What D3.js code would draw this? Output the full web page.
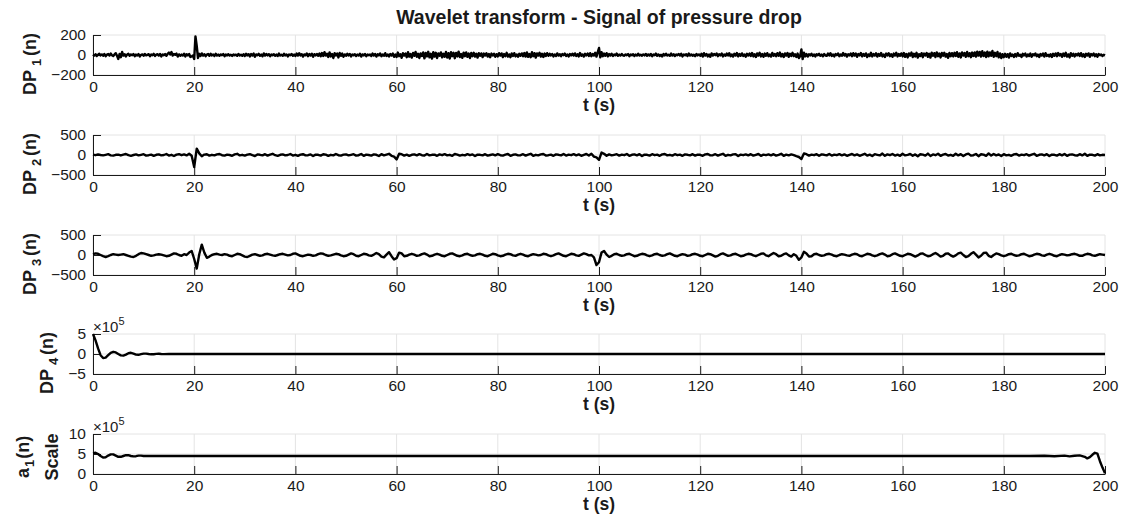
<!DOCTYPE html>
<html>
<head>
<meta charset="utf-8">
<script src="https://cdn.jsdelivr.net/npm/d3@7/dist/d3.min.js"></script>
<style>
  body { margin: 0; background: #fff; }
  svg { display: block; font-family: "Liberation Sans", Arial, Helvetica, sans-serif; }
</style>
</head>
<body>
<script>
// ---- data ----
let xTicks = [0, 20, 40, 60, 80, 100, 120, 140, 160, 180, 200];

// DP1, one sample every 0.25 s
let dp1 = [
  4,-6,8,-10,2,12,-4,6,-8,10,-12,3,9,-6,14,-2,-10,6,18,-8,
  -40,10,-22,30,-6,8,-14,4,12,-8,6,-2,10,-12,4,-6,9,-14,2,6,
  -8,10,-4,2,8,-12,6,-2,12,-10,4,8,-6,10,-14,6,-2,10,-8,12,
  24,6,30,-6,10,2,14,-16,6,-8,4,-6,12,-14,8,-4,10,-20,-14,-6,
  -40,185,90,-30,12,-10,16,-6,8,-12,4,10,-8,12,-4,6,-10,12,-6,4,
  -8,6,-2,10,-12,4,-4,8,-6,2,-10,6,-2,4,-8,10,-6,2,-8,8,
  -10,12,-4,8,-14,10,-6,14,-18,6,-2,12,-8,4,-12,16,-6,10,-4,8,
  -12,6,-2,8,-8,4,-10,14,-6,2,-8,12,-4,6,-14,6,-2,10,-8,4,
  -10,14,-6,18,-4,8,-16,6,-2,16,-12,10,-6,12,-18,8,-4,10,-8,14,
  -12,20,-10,28,-6,12,-20,26,-14,10,-30,18,-4,14,-24,20,-8,14,-18,6,
  -8,12,-4,10,-14,6,-2,8,-10,4,-6,12,-16,6,-4,10,-12,4,-2,6,
  -10,14,-6,10,-16,8,-4,16,-12,6,-8,18,-10,6,-14,10,-6,14,-18,4,
  -20,24,-12,8,-28,18,-6,14,-22,28,-16,10,-26,20,-8,30,-18,12,-30,16,
  -10,26,-34,20,-14,32,-24,12,-36,28,-16,22,-30,16,-8,26,-24,12,-18,30,
  -26,18,-36,28,-12,22,-32,20,-14,34,-20,10,-28,24,-12,26,-18,14,-30,20,
  -12,22,-16,12,-26,18,-8,16,-20,14,-6,18,-16,10,-22,14,-4,12,-18,8,
  -14,18,-6,16,-20,10,-12,22,-16,6,-22,16,-10,18,-14,6,-18,12,-8,16,
  -12,20,-16,26,-18,10,-22,28,-12,18,-26,16,-6,22,-16,12,-20,14,-10,18,
  -8,12,-4,10,-14,6,-10,16,-6,8,-12,10,-2,14,-10,6,-14,10,-4,12,
  -6,16,-10,8,-14,20,-8,6,-16,12,-4,14,-10,18,-12,10,-6,22,-16,30,
  70,-24,28,-12,14,-8,18,-14,10,-6,12,-10,6,-2,14,-8,4,-6,10,-4,
  -8,6,-2,10,-12,4,-2,8,-10,4,-6,12,-6,2,-8,6,-4,10,-8,6,
  -6,10,-12,4,-2,14,-8,6,-10,2,-14,10,-4,12,-6,2,-8,14,-6,8,
  -10,6,-2,10,-6,12,-14,4,-2,8,-10,14,-6,6,-8,2,-12,10,-4,6,
  -8,12,-16,18,-6,10,-14,4,-18,16,-6,10,-2,16,-12,8,-4,14,-14,6,
  -8,14,-4,18,-12,6,-16,12,-6,20,-14,10,-8,16,-10,6,-18,12,-6,14,
  -10,20,-14,8,-20,16,-6,22,-14,10,-18,14,-8,18,-12,6,-16,20,-8,10,
  -12,18,-8,24,-14,10,-20,16,-6,20,-18,12,-10,22,-12,8,-20,14,-30,-10,
  55,-40,24,-14,10,-16,8,-4,12,-10,6,-14,8,-2,12,-8,4,-12,10,-6,
  -8,14,-4,18,-10,6,-14,10,-2,16,-12,6,-8,20,-6,10,-16,8,-4,14,
  -12,18,-6,14,-18,10,-4,20,-14,10,-8,16,-20,6,-10,22,-14,10,-6,18,
  -16,10,-8,20,-14,6,-20,14,-4,18,-12,8,-18,14,-6,22,-14,10,-8,16,
  -14,20,-18,10,-24,16,-6,24,-20,12,-14,22,-26,8,-10,18,-22,14,-4,20,
  -18,12,-26,24,-8,18,-20,26,-12,14,-24,20,-8,22,-16,10,-28,20,-12,18,
  -14,22,-10,28,-18,16,-24,26,-6,20,-18,30,-12,18,-22,24,-10,26,-16,34,
  -6,30,-16,38,-10,24,-20,34,-14,26,-8,40,-18,22,-12,30,-24,16,-30,8,
  -22,12,-18,8,-26,16,-10,4,-20,10,-14,18,-8,2,-20,12,-4,14,-16,6,
  -10,14,-18,8,-2,16,-12,4,-20,10,-6,14,-16,18,-10,2,-14,8,-20,12,
  -8,16,-12,20,-4,10,-18,14,-10,22,-16,6,-24,18,-8,12,-14,10,-4,16,
  -10,18,-14,8,-20,12,-6,16,-18,10,-4,14,-12,8,-18,10,-2,6,-10,2,
  -4
];

// DP2, one sample every 0.5 s
let dp2 = [
  10,-5,15,0,-10,5,20,-8,-15,5,10,-12,8,25,-5,-20,0,15,-10,5,
  20,-15,-5,10,-20,5,15,-10,0,25,-15,5,-25,10,20,-5,15,-10,30,-20,
  -300,160,40,-30,10,20,-15,5,-10,15,25,-5,-15,10,0,-20,15,30,-10,5,
  -15,10,20,-5,-25,15,5,-10,20,-15,10,30,-5,-20,5,15,-10,0,25,-15,
  5,-20,10,20,-10,-5,15,-25,10,5,-15,20,10,-20,5,-10,25,-5,-15,10,
  15,-10,5,20,-15,-5,25,-20,10,0,-15,15,5,-25,20,-10,10,30,-20,-40,
  -110,30,20,-15,10,-20,5,15,-10,20,-5,-15,25,-10,5,10,-20,15,-5,20,
  -10,5,-20,25,10,-15,5,-10,20,-5,15,-25,10,5,-10,20,-15,0,15,-10,
  20,-5,-15,10,25,-20,5,15,-10,-5,20,-15,10,30,-20,5,-10,15,25,-15,
  -5,10,-20,15,5,-10,25,-15,10,-5,20,-10,15,-20,5,25,-15,30,-40,-60,
  -120,60,30,-20,15,-10,5,20,-15,10,-5,25,-20,5,15,-10,20,-25,10,5,
  -15,20,-5,10,-20,15,25,-10,5,-15,20,-5,10,-20,15,5,-10,20,-15,10,
  5,-20,15,25,-10,-5,20,-15,10,30,-20,5,-10,15,20,-25,10,-5,15,-10,
  20,-15,5,25,-20,10,-5,15,-10,20,-15,5,30,-20,10,-10,15,-5,-30,-50,
  -100,40,20,-15,10,-5,20,-20,15,5,-10,25,-15,10,-5,20,-10,15,-20,5,
  25,-10,15,-20,5,30,-15,10,-25,20,5,-10,35,-20,15,-5,25,-15,10,-20,
  30,-10,5,25,-20,15,-30,20,10,-15,35,-25,15,-5,30,-20,10,25,-15,5,
  -20,30,-10,20,-25,15,35,-15,-5,25,-30,20,10,-20,40,-15,25,-10,15,-25,
  20,-10,5,-20,15,25,-15,10,-5,20,-15,10,30,-20,5,15,-10,20,-25,10,
  5,-15,20,-10,25,-20,10,15,-5,-15,20,-10,30,-20,10,5,-15,20,-10,5,
  0
];

// DP3, one sample every 0.5 s
let dp3 = [
  20,40,30,0,-30,-50,-30,0,20,10,0,10,20,0,-20,-40,-50,-20,20,50,
  40,20,0,-20,-10,10,20,10,-10,-30,-20,10,40,30,0,-20,20,0,60,100,
  -100,-340,20,260,60,-70,-40,0,20,30,10,0,20,10,-20,-30,0,30,20,-10,
  -40,-50,-20,10,20,0,-20,-10,20,30,10,-10,-20,0,20,30,10,-10,0,30,
  40,10,-20,-30,-10,10,0,-20,-10,20,40,30,0,-20,-10,10,30,20,-10,-30,
  -20,10,40,20,-20,-30,0,30,20,-10,-20,10,50,20,-40,-60,10,70,-30,-110,
  -80,60,40,-30,-20,10,30,10,-20,-10,20,40,10,-30,-20,10,30,10,-20,-30,
  0,30,40,10,-20,-30,-10,20,30,0,-20,-10,20,30,10,-20,-30,0,30,20,
  -10,-30,-20,10,30,20,-10,-20,10,30,10,-20,-30,0,20,10,-10,0,30,20,
  -10,-30,-10,20,40,10,-20,-30,0,30,20,-10,-20,10,40,20,-10,0,-60,-250,
  -180,60,100,10,-50,-20,20,30,0,-20,-10,20,30,0,-30,-20,10,30,20,-10,
  -30,-10,20,30,0,-20,-10,20,40,10,-20,-30,0,20,10,-20,-10,20,30,10,
  -20,-30,0,30,20,-10,-40,-20,20,40,10,-20,-10,20,30,0,-30,-20,10,30,
  20,-10,-30,0,30,40,-10,-30,10,50,20,-30,-20,20,40,-10,-40,20,-20,-120,
  -60,80,40,-40,-30,20,30,0,-20,-10,20,30,10,-20,-30,0,20,10,-10,-20,
  10,30,20,-20,-30,0,30,20,-10,-30,-10,20,40,10,-30,-20,20,40,10,-20,
  -30,0,30,20,-10,-40,-10,30,40,0,-30,-20,20,50,10,-40,-20,30,40,-10,
  -40,-10,40,60,0,-50,-30,30,70,10,-60,-20,50,60,-20,-50,0,40,20,-10,
  -30,-10,20,30,0,-20,-10,20,30,0,-30,-20,10,30,20,-10,-20,10,30,10,
  -20,-30,0,20,10,-10,0,20,30,10,-20,-20,10,30,20,-10,-20,0,20,10,
  0
];

// DP4 (x 1e5), time / value pairs
let tDp4 = [0,0.5,1,1.5,2,2.5,3,3.5,4,4.5,5,5.5,6,6.5,7,7.5,8,8.5,9,9.5,10,10.5,11,11.5,12,12.5,13,13.5,14,15,200];
let dp4 = [5,3.4,1.4,-0.3,-1.0,-0.9,-0.3,0.3,0.55,0.4,0,-0.35,-0.4,-0.15,0.2,0.3,0.1,-0.15,-0.2,-0.05,0.1,0.1,0,-0.08,-0.05,0.03,0.05,0,-0.02,0,0];

// a1 (x 1e5), time / value pairs
let tA1 = [0,0.5,1,1.5,2,2.5,3,3.5,4,4.5,5,5.5,6,6.5,7,7.5,8,8.5,9,9.5,10,11,185,188,190,192,193,194,195,196,196.5,197,197.5,198,198.5,199,199.5,200];
let a1 = [5.2,5.3,5.0,4.5,4.1,4.2,4.6,4.9,4.9,4.6,4.3,4.3,4.5,4.7,4.7,4.5,4.4,4.45,4.6,4.6,4.5,4.5,4.5,4.55,4.45,4.6,4.4,4.55,4.65,4.3,3.9,4.2,4.8,5.3,5.1,3.2,1.6,0.2];

// ---- layout ----
let W = 1127, H = 527;
let x = d3.scaleLinear().domain([0, 200]).range([93, 1105]);
let plotH = 40;
let ink = '#1a1a1a', gridCol = '#e4e4e4';

let svg = d3.select('body').append('svg')
    .attr('width', W)
    .attr('height', H);

svg.append('text')
    .attr('x', 599).attr('y', 24)
    .attr('text-anchor', 'middle')
    .style('font-size', '19.5px').style('font-weight', 'bold')
    .attr('fill', ink)
    .text('Wavelet transform - Signal of pressure drop');

let panels = [
    {top: 35, t: dp1.map((d, i) => i * 0.25), v: dp1, dom: [-200, 200], ticks: [-200, 0, 200], sub: '1', lx: 36},
    {top: 135, t: dp2.map((d, i) => i * 0.5), v: dp2, dom: [-500, 500], ticks: [-500, 0, 500], sub: '2', lx: 36},
    {top: 235, t: dp3.map((d, i) => i * 0.5), v: dp3, dom: [-500, 500], ticks: [-500, 0, 500], sub: '3', lx: 36},
    {top: 334, t: tDp4, v: dp4, dom: [-5, 5], ticks: [-5, 0, 5], sub: '4', lx: 53, exp: true},
    {top: 434, t: tA1, v: a1, dom: [0, 10], ticks: [0, 5, 10], exp: true, scale: true}
];

panels.forEach(p => {
    let y = d3.scaleLinear().domain(p.dom).range([p.top + plotH, p.top]);
    let g = svg.append('g');
    let bottom = p.top + plotH;

    // grid
    g.selectAll('.vg').data(xTicks).enter().append('line')
        .attr('x1', d => x(d)).attr('x2', d => x(d))
        .attr('y1', p.top).attr('y2', bottom)
        .attr('stroke', gridCol).attr('stroke-width', 1);
    g.selectAll('.hg').data(p.ticks).enter().append('line')
        .attr('x1', x(0)).attr('x2', x(200))
        .attr('y1', d => y(d)).attr('y2', d => y(d))
        .attr('stroke', gridCol).attr('stroke-width', 1);

    // axes
    let ax = g.append('g')
        .attr('transform', 'translate(0,' + bottom + ')')
        .call(d3.axisBottom(x).tickValues(xTicks).tickSizeInner(-8).tickSizeOuter(0).tickPadding(6));
    let ay = g.append('g')
        .attr('transform', 'translate(' + x(0) + ',0)')
        .call(d3.axisLeft(y).tickValues(p.ticks).tickSizeInner(-8).tickSizeOuter(0).tickPadding(7));
    [ax, ay].forEach(a => {
        a.select('.domain').attr('stroke', ink);
        a.selectAll('line').attr('stroke', ink);
        a.selectAll('text').attr('fill', ink)
            .style('font-size', '15.5px')
            .style('font-family', '"Liberation Sans", Arial, sans-serif');
    });

    // signal
    let line = d3.line()
        .x((d, i) => x(p.t[i]))
        .y(d => y(d));
    g.append('path')
        .datum(p.v)
        .attr('d', line)
        .attr('fill', 'none')
        .attr('stroke', '#000')
        .attr('stroke-width', 2.4)
        .attr('stroke-linejoin', 'round');

    // x label
    g.append('text')
        .attr('x', 599).attr('y', bottom + 36)
        .attr('text-anchor', 'middle')
        .style('font-size', '17.5px').style('font-weight', 'bold')
        .attr('fill', ink)
        .text('t (s)');

    // exponent
    if (p.exp) {
        let e = g.append('text')
            .attr('x', x(0)).attr('y', p.top - 2)
            .style('font-size', '15px')
            .attr('fill', ink);
        e.append('tspan').text('\u00d710');
        e.append('tspan').attr('dy', -7).style('font-size', '11px').text('5');
    }

    // y label
    if (p.scale) {
        let t1 = g.append('text')
            .attr('transform', 'translate(29,' + (p.top + 23) + ') rotate(-90)')
            .attr('text-anchor', 'middle')
            .style('font-size', '18px').style('font-weight', 'bold')
            .attr('fill', ink);
        t1.append('tspan').text('a');
        t1.append('tspan').attr('dy', 5).attr('dx', 1).style('font-size', '13px').text('1');
        t1.append('tspan').attr('dy', -5).attr('dx', 1).text('(n)');
        g.append('text')
            .attr('transform', 'translate(58,' + (p.top + 23) + ') rotate(-90)')
            .attr('text-anchor', 'middle')
            .style('font-size', '18px').style('font-weight', 'bold')
            .attr('fill', ink)
            .text('Scale');
    } else {
        let t = g.append('text')
            .attr('transform', 'translate(' + p.lx + ',' + (p.top + 29) + ') rotate(-90)')
            .attr('text-anchor', 'middle')
            .style('font-size', '18px').style('font-weight', 'bold')
            .attr('fill', ink);
        t.append('tspan').text('DP');
        t.append('tspan').attr('dy', 5).attr('dx', 4).style('font-size', '13px').text(p.sub);
        t.append('tspan').attr('dy', -5).attr('dx', 3).text('(n)');
    }
});
</script>
</body>
</html>
